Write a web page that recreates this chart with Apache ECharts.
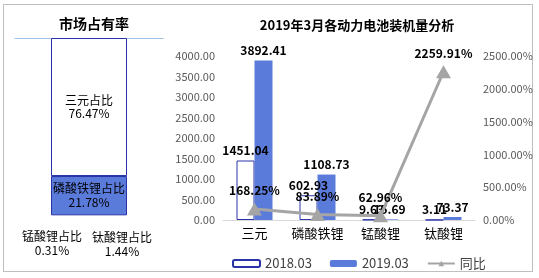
<!DOCTYPE html>
<html>
<head>
<meta charset="utf-8">
<script src="https://cdn.jsdelivr.net/npm/echarts@6/dist/echarts.min.js"></script>
<style>
html,body{margin:0;padding:0;background:#fff;}
#wrap{position:relative;width:539px;height:278px;}
#frame{position:absolute;left:3px;top:4px;width:530px;height:268px;border:1px solid #BFBFBF;box-sizing:border-box;}
#chart{position:absolute;left:0;top:0;width:539px;height:278px;}
</style>
</head>
<body>
<div id="wrap"><div id="frame"></div><div id="chart"></div></div>
<script>
// Left panel: market share
const shareTitle = '市场占有率';
const shareNames = ['钛酸锂占比', '锰酸锂占比', '磷酸铁锂占比', '三元占比'];
const shareValues = [1.44, 0.31, 21.78, 76.47];

// Right panel
const mainTitle = '2019年3月各动力电池装机量分析';
const categories = ['三元', '磷酸铁锂', '锰酸锂', '钛酸锂'];
const seriesNames = ['2018.03', '2019.03', '同比'];
const vol2018 = [1451.04, 602.93, 9.63, 3.11];
const vol2019 = [3892.41, 1108.73, 15.69, 73.37];
const yoy = [168.25, 83.89, 62.96, 2259.91];
const leftTicks = { min: 0, max: 4000, interval: 500 };
const rightTicks = { min: 0, max: 2500, interval: 500 };

const FONT = '"Noto Sans CJK SC", "Noto Sans", sans-serif';
const BLUE = '#5B7BDB';
const NAVY = '#2A33A8';
const GRAY = '#A5A5A5';

const chart = echarts.init(document.getElementById('chart'), null, { renderer: 'canvas' });

function shareSeries(i) {
  const name = shareNames[i];
  const base = {
    type: 'bar', stack: 'share', xAxisIndex: 0, yAxisIndex: 0,
    barWidth: 76, name: name, silent: true,
    data: [shareValues[i]]
  };
  const labelText = name + '\n' + shareValues[i].toFixed(2) + '%';
  if (i === 3) {
    base.itemStyle = { color: '#FFFFFF', borderColor: NAVY, borderWidth: 1 };
    base.label = { show: true, position: 'inside', formatter: labelText, color: '#000', fontSize: 12, lineHeight: 13, fontFamily: FONT };
  } else if (i === 2) {
    base.itemStyle = { color: BLUE, borderColor: NAVY, borderWidth: 1 };
    base.label = { show: true, position: 'inside', formatter: labelText, color: '#000', fontSize: 12, lineHeight: 14, fontFamily: FONT };
  } else {
    base.itemStyle = { color: 'rgba(255,255,255,0)' };
    const off = i === 1 ? [-37, 14] : [33, 12];
    base.label = { show: true, position: 'bottom', distance: 0, offset: off, formatter: labelText,
      color: '#000', fontSize: 12, lineHeight: 14, fontFamily: FONT };
  }
  return base;
}

const option = {
  animation: false,
  textStyle: { fontFamily: FONT },
  title: [
    { text: shareTitle, left: 89, top: 12, textAlign: 'center',
      textStyle: { fontSize: 14, fontWeight: 'bold', color: '#000', fontFamily: FONT } },
    { text: mainTitle, left: 352, top: 14, textAlign: 'center',
      textStyle: { fontSize: 13, fontWeight: 'bold', color: '#000', fontFamily: FONT } }
  ],
  legend: {
    data: seriesNames,
    left: 227, top: 252,
    itemWidth: 27, itemHeight: 7, itemGap: 18,
    textStyle: { fontSize: 13, color: '#404040', fontFamily: FONT },
    selectedMode: false
  },
  grid: [
    { left: 15, width: 148, top: 38, height: 180.5, containLabel: false },
    { left: 223, width: 252, top: 56, height: 164, containLabel: false }
  ],
  xAxis: [
    { type: 'category', gridIndex: 0, position: 'top', data: ['share'],
      axisLine: { show: true, onZero: false, lineStyle: { color: '#9DC3E6', width: 1 } },
      axisTick: { show: false }, axisLabel: { show: false } },
    { type: 'category', gridIndex: 1, data: categories,
      axisLine: { show: true, lineStyle: { color: '#D9D9D9', width: 1 } },
      axisTick: { show: false },
      axisLabel: { color: '#000', fontSize: 13, margin: 7, interval: 0, fontFamily: FONT } }
  ],
  yAxis: [
    { type: 'value', gridIndex: 0, min: 0, max: 100, show: false },
    { type: 'value', gridIndex: 1, min: leftTicks.min, max: leftTicks.max, interval: leftTicks.interval,
      axisLine: { show: false }, axisTick: { show: false }, splitLine: { show: false },
      axisLabel: { color: '#595959', fontSize: 11, margin: 8, fontFamily: FONT,
        formatter: v => v.toFixed(2) } },
    { type: 'value', gridIndex: 1, min: rightTicks.min, max: rightTicks.max, interval: rightTicks.interval,
      position: 'right',
      axisLine: { show: false }, axisTick: { show: false }, splitLine: { show: false },
      axisLabel: { color: '#595959', fontSize: 11, margin: 8, fontFamily: FONT,
        formatter: v => v.toFixed(2) + '%' } }
  ],
  series: [
    shareSeries(0), shareSeries(1), shareSeries(2), shareSeries(3),
    { name: seriesNames[0], type: 'bar', xAxisIndex: 1, yAxisIndex: 1,
      barWidth: 18, barGap: '0%', data: vol2018,
      itemStyle: { color: '#FFFFFF', borderColor: NAVY, borderWidth: 1 },
      label: { show: true, position: 'top', distance: 4, color: '#000', fontWeight: 'bold', fontSize: 12,
        fontFamily: FONT, formatter: p => p.value.toFixed(2) } },
    { name: seriesNames[1], type: 'bar', xAxisIndex: 1, yAxisIndex: 1,
      barWidth: 18, barGap: '0%', data: vol2019,
      itemStyle: { color: BLUE },
      label: { show: true, position: 'top', distance: 4, color: '#000', fontWeight: 'bold', fontSize: 12,
        fontFamily: FONT, formatter: p => p.value.toFixed(2) } },
    { name: seriesNames[2], type: 'line', xAxisIndex: 1, yAxisIndex: 2,
      data: yoy, symbol: 'triangle', symbolSize: [15, 13],
      lineStyle: { color: GRAY, width: 3 },
      itemStyle: { color: GRAY },
      label: { show: true, position: 'top', distance: 6, color: '#000', fontWeight: 'bold', fontSize: 12,
        fontFamily: FONT, formatter: p => p.value.toFixed(2) + '%' } }
  ]
};
chart.setOption(option);
</script>
</body>
</html>
